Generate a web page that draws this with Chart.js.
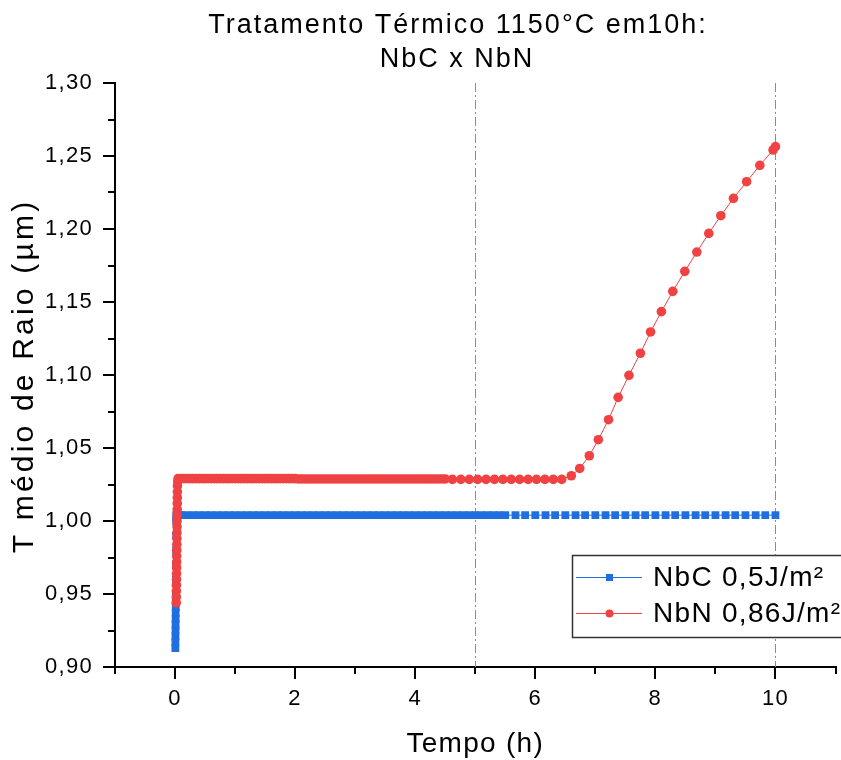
<!DOCTYPE html>
<html>
<head>
<meta charset="utf-8">
<script src="https://cdn.jsdelivr.net/npm/chart.js@4.4.1/dist/chart.umd.min.js"></script>
<style>
  html, body { margin: 0; padding: 0; background: #fff; }
  canvas { display: block; }
</style>
</head>
<body>
<canvas id="chartCanvas" width="841" height="760"></canvas>
<script>
// ------- texts
const titleLines = ['Tratamento Térmico 1150°C em10h:', 'NbC x NbN'];
const xTitle = 'Tempo (h)';
const yTitle = 'T médio de Raio (µm)';
const seriesNames = ['NbC 0,5J/m²', 'NbN 0,86J/m²'];

// ------- axes
const xMajorTicks = [0, 2, 4, 6, 8, 10];
const xMinorTicks = [-1, 1, 3, 5, 7, 9, 11];
const yMajorTicks = [0.90, 0.95, 1.00, 1.05, 1.10, 1.15, 1.20, 1.25, 1.30];
const yMinorTicks = [0.925, 0.975, 1.025, 1.075, 1.125, 1.175, 1.225, 1.275];
const refLines = [5, 10]; // dash-dot verticals

// ------- NbC 0,5J/m² (blue)
const nbcTime = [
  0.005, 0.006, 0.007, 0.008, 0.009, 0.010, 0.011, 0.012, 0.013, 0.014, 0.015, 0.016, 0.017, 0.018, 0.019, 0.020,
  0.04, 0.07,
  0.1, 0.2, 0.3, 0.4, 0.5, 0.6, 0.7, 0.8, 0.9, 1.0,
  1.1, 1.2, 1.3, 1.4, 1.5, 1.6, 1.7, 1.8, 1.9, 2.0,
  2.1, 2.2, 2.3, 2.4, 2.5, 2.6, 2.7, 2.8, 2.9, 3.0,
  3.1, 3.2, 3.3, 3.4, 3.5, 3.6, 3.7, 3.8, 3.9, 4.0,
  4.1, 4.2, 4.3, 4.4, 4.5, 4.6, 4.7, 4.8, 4.9, 5.0,
  5.1, 5.2, 5.3, 5.4,
  5.5, 5.67, 5.83, 6.0, 6.17, 6.33, 6.5, 6.67, 6.83, 7.0,
  7.17, 7.33, 7.5, 7.67, 7.83, 8.0, 8.17, 8.33, 8.5, 8.67,
  8.83, 9.0, 9.17, 9.33, 9.5, 9.67, 9.83, 10.0
];
const nbcValue = [
  0.913, 0.917, 0.921, 0.925, 0.929, 0.933, 0.937, 0.941, 0.945, 0.950, 0.960, 0.970, 0.980, 0.990, 1.000, 1.004,
  1.004, 1.004,
  1.004, 1.004, 1.004, 1.004, 1.004, 1.004, 1.004, 1.004, 1.004, 1.004,
  1.004, 1.004, 1.004, 1.004, 1.004, 1.004, 1.004, 1.004, 1.004, 1.004,
  1.004, 1.004, 1.004, 1.004, 1.004, 1.004, 1.004, 1.004, 1.004, 1.004,
  1.004, 1.004, 1.004, 1.004, 1.004, 1.004, 1.004, 1.004, 1.004, 1.004,
  1.004, 1.004, 1.004, 1.004, 1.004, 1.004, 1.004, 1.004, 1.004, 1.004,
  1.004, 1.004, 1.004, 1.004,
  1.004, 1.004, 1.004, 1.004, 1.004, 1.004, 1.004, 1.004, 1.004, 1.004,
  1.004, 1.004, 1.004, 1.004, 1.004, 1.004, 1.004, 1.004, 1.004, 1.004,
  1.004, 1.004, 1.004, 1.004, 1.004, 1.004, 1.004, 1.004
];

// ------- NbN 0,86J/m² (red)
const nbnTime = [
  0.020, 0.021, 0.022, 0.023, 0.024, 0.025, 0.026, 0.027, 0.028, 0.029, 0.030, 0.031,
  0.032, 0.033, 0.034, 0.035, 0.036, 0.037, 0.038, 0.039, 0.040, 0.045, 0.050,
  0.10, 0.15, 0.20, 0.25, 0.30, 0.35, 0.40, 0.45, 0.50, 0.55,
  0.60, 0.65, 0.70, 0.75, 0.80, 0.85, 0.90, 0.95, 1.00, 1.05,
  1.10, 1.15, 1.20, 1.25, 1.30, 1.35, 1.40, 1.45, 1.50, 1.55,
  1.60, 1.65, 1.70, 1.75, 1.80, 1.85, 1.90, 1.95, 2.00,
  2.05, 2.10, 2.15, 2.20, 2.25, 2.30, 2.35, 2.40, 2.45, 2.50,
  2.55, 2.60, 2.65, 2.70, 2.75, 2.80, 2.85, 2.90, 2.95, 3.00,
  3.05, 3.10, 3.15, 3.20, 3.25, 3.30, 3.35, 3.40, 3.45, 3.50,
  3.55, 3.60, 3.65, 3.70, 3.75, 3.80, 3.85, 3.90, 3.95, 4.00,
  4.05, 4.10, 4.15, 4.20, 4.25, 4.30, 4.35, 4.40, 4.45, 4.50,
  4.62, 4.76, 4.90, 5.04, 5.18, 5.32, 5.46, 5.60, 5.74, 5.88, 6.02, 6.16, 6.30, 6.44,
  6.60, 6.74, 6.90, 7.05, 7.22, 7.38, 7.56, 7.75, 7.92, 8.10,
  8.29, 8.49, 8.69, 8.89, 9.09, 9.30, 9.52, 9.74, 9.96, 10.0
];
const nbnValue = [
  0.944, 0.948, 0.952, 0.956, 0.960, 0.964, 0.968, 0.972, 0.976, 0.980, 0.984, 0.988,
  0.992, 0.996, 1.000, 1.004, 1.008, 1.012, 1.016, 1.020, 1.024, 1.027, 1.029,
  1.029, 1.029, 1.029, 1.029, 1.029, 1.029, 1.029, 1.029, 1.029, 1.029,
  1.029, 1.029, 1.029, 1.029, 1.029, 1.029, 1.029, 1.029, 1.029, 1.029,
  1.029, 1.029, 1.029, 1.029, 1.029, 1.029, 1.029, 1.029, 1.029, 1.029,
  1.029, 1.029, 1.029, 1.029, 1.029, 1.029, 1.029, 1.029, 1.029,
  1.0288, 1.0288, 1.0288, 1.0288, 1.0288, 1.0288, 1.0288, 1.0288, 1.0288, 1.0288,
  1.0288, 1.0288, 1.0288, 1.0288, 1.0288, 1.0288, 1.0288, 1.0288, 1.0288, 1.0288,
  1.0288, 1.0288, 1.0288, 1.0288, 1.0288, 1.0288, 1.0288, 1.0288, 1.0288, 1.0288,
  1.0288, 1.0288, 1.0288, 1.0288, 1.0288, 1.0288, 1.0288, 1.0288, 1.0288, 1.0288,
  1.0288, 1.0288, 1.0288, 1.0288, 1.0288, 1.0288, 1.0288, 1.0288, 1.0288, 1.0288,
  1.0285, 1.0285, 1.0285, 1.0285, 1.0285, 1.0285, 1.0285, 1.0285, 1.0285, 1.0285, 1.0285, 1.0285, 1.0285, 1.0285,
  1.0310, 1.0360, 1.0447, 1.0557, 1.0694, 1.0847, 1.0998, 1.1149, 1.1295, 1.1434,
  1.1573, 1.1710, 1.1842, 1.1970, 1.2091, 1.2210, 1.2324, 1.2436, 1.2541, 1.2564
];

const BLUE = '#1f6fe0';
const RED = '#f04242';
const FONT = '"Liberation Sans", Arial, sans-serif';

// draws dash-dot reference lines, minor ticks, titles and the framed legend
const extrasPlugin = {
  id: 'extras',
  beforeDraw(chart) {
    chart.ctx.letterSpacing = '1.3px';
  },
  beforeDatasetsDraw(chart) {
    const { ctx, chartArea: a, scales: { x } } = chart;
    ctx.save();
    ctx.strokeStyle = '#8c8c8c';
    ctx.lineWidth = 1;
    ctx.setLineDash([9, 3, 2, 3]);
    refLines.forEach(v => {
      const px = Math.round(x.getPixelForValue(v)) + 0.5;
      ctx.beginPath();
      ctx.moveTo(px, a.top);
      ctx.lineTo(px, a.bottom);
      ctx.stroke();
    });
    ctx.restore();
  },
  afterDraw(chart) {
    const { ctx, chartArea: a, scales: { x, y } } = chart;
    ctx.save();
    // minor ticks (outward, shorter)
    ctx.strokeStyle = '#000';
    ctx.lineWidth = 2;
    ctx.beginPath();
    xMinorTicks.forEach(v => {
      const px = Math.round(x.getPixelForValue(v));
      ctx.moveTo(px, a.bottom);
      ctx.lineTo(px, a.bottom + 7);
    });
    yMinorTicks.forEach(v => {
      const py = Math.round(y.getPixelForValue(v));
      ctx.moveTo(a.left - 7, py);
      ctx.lineTo(a.left, py);
    });
    ctx.stroke();

    // title
    ctx.fillStyle = '#000';
    ctx.font = '27px ' + FONT;
    ctx.letterSpacing = '2px';
    ctx.textAlign = 'center';
    ctx.textBaseline = 'alphabetic';
    ctx.fillText(titleLines[0], 458, 33);
    ctx.fillText(titleLines[1], 457, 67);

    // y axis title (rotated)
    ctx.save();
    ctx.translate(25, (a.top + a.bottom) / 2 + 1);
    ctx.rotate(-Math.PI / 2);
    ctx.font = '30px ' + FONT;
    ctx.letterSpacing = '3.2px';
    ctx.textBaseline = 'middle';
    ctx.fillText(yTitle, 0, 0);
    ctx.restore();

    // legend box
    const bx = 572, by = 555, bw = 272, bh = 82;
    ctx.fillStyle = '#fff';
    ctx.fillRect(bx, by, bw, bh);
    ctx.strokeStyle = '#333';
    ctx.lineWidth = 1.5;
    ctx.strokeRect(bx + 0.5, by + 0.5, bw, bh);

    const rows = [577, 613];
    const colors = [BLUE, RED];
    rows.forEach((ry, i) => {
      ctx.strokeStyle = colors[i];
      ctx.lineWidth = 1;
      ctx.beginPath();
      ctx.moveTo(576, ry + 0.5);
      ctx.lineTo(642, ry + 0.5);
      ctx.stroke();
      ctx.fillStyle = colors[i];
      if (i === 0) {
        ctx.fillRect(606, ry - 3, 7, 7);
      } else {
        ctx.beginPath();
        ctx.arc(609.5, ry + 0.5, 4, 0, Math.PI * 2);
        ctx.fill();
      }
      ctx.fillStyle = '#000';
      ctx.font = '28px ' + FONT;
      ctx.letterSpacing = '1.3px';
      ctx.textAlign = 'left';
      ctx.textBaseline = 'middle';
      ctx.fillText(seriesNames[i], 653, ry + 1);
    });
    ctx.restore();
  }
};

const ctx = document.getElementById('chartCanvas').getContext('2d');

const chart = new Chart(ctx, {
  type: 'scatter',
  data: {
    datasets: [
      {
        label: seriesNames[0],
        data: nbcTime.map((t, i) => ({ x: t, y: nbcValue[i] })),
        showLine: true,
        borderColor: BLUE,
        backgroundColor: BLUE,
        borderWidth: 1,
        pointStyle: 'rect',
        pointRadius: 5.5,
        pointBorderWidth: 0,
        order: 1
      },
      {
        label: seriesNames[1],
        data: nbnTime.map((t, i) => ({ x: t, y: nbnValue[i] })),
        showLine: true,
        borderColor: RED,
        backgroundColor: RED,
        borderWidth: 1,
        pointStyle: 'circle',
        pointRadius: 4.8,
        pointBorderWidth: 0,
        order: 0
      }
    ]
  },
  options: {
    responsive: false,
    animation: false,
    devicePixelRatio: 1,
    layout: { padding: { top: 83, right: 2, bottom: 0, left: 0 } },
    plugins: {
      legend: { display: false },
      tooltip: { enabled: false },
      title: { display: false }
    },
    scales: {
      x: {
        type: 'linear',
        min: -1,
        max: 11,
        afterBuildTicks: scale => { scale.ticks = xMajorTicks.map(v => ({ value: v })); },
        afterFit: scale => { scale.height = 93; },
        grid: { display: true, drawOnChartArea: false, drawTicks: true, tickLength: 12, color: '#000', lineWidth: 2 },
        border: { display: true, color: '#000', width: 2 },
        ticks: {
          autoSkip: false, maxRotation: 0, padding: 7, color: '#000',
          font: { family: FONT, size: 22 },
          callback: v => String(v)
        },
        title: {
          display: true, text: xTitle, color: '#000',
          font: { family: FONT, size: 28, lineHeight: 1 },
          padding: { top: 0, bottom: 2 }
        }
      },
      y: {
        type: 'linear',
        min: 0.9,
        max: 1.3,
        afterBuildTicks: scale => { scale.ticks = yMajorTicks.map(v => ({ value: v })); },
        afterFit: scale => { scale.width = 115; },
        grid: { display: true, drawOnChartArea: false, drawTicks: true, tickLength: 12, color: '#000', lineWidth: 2 },
        border: { display: true, color: '#000', width: 2 },
        ticks: {
          autoSkip: false, padding: 10, color: '#000',
          font: { family: FONT, size: 22 },
          callback: v => v.toFixed(2).replace('.', ',')
        },
        title: { display: false }
      }
    }
  },
  plugins: [extrasPlugin]
});
</script>
</body>
</html>
